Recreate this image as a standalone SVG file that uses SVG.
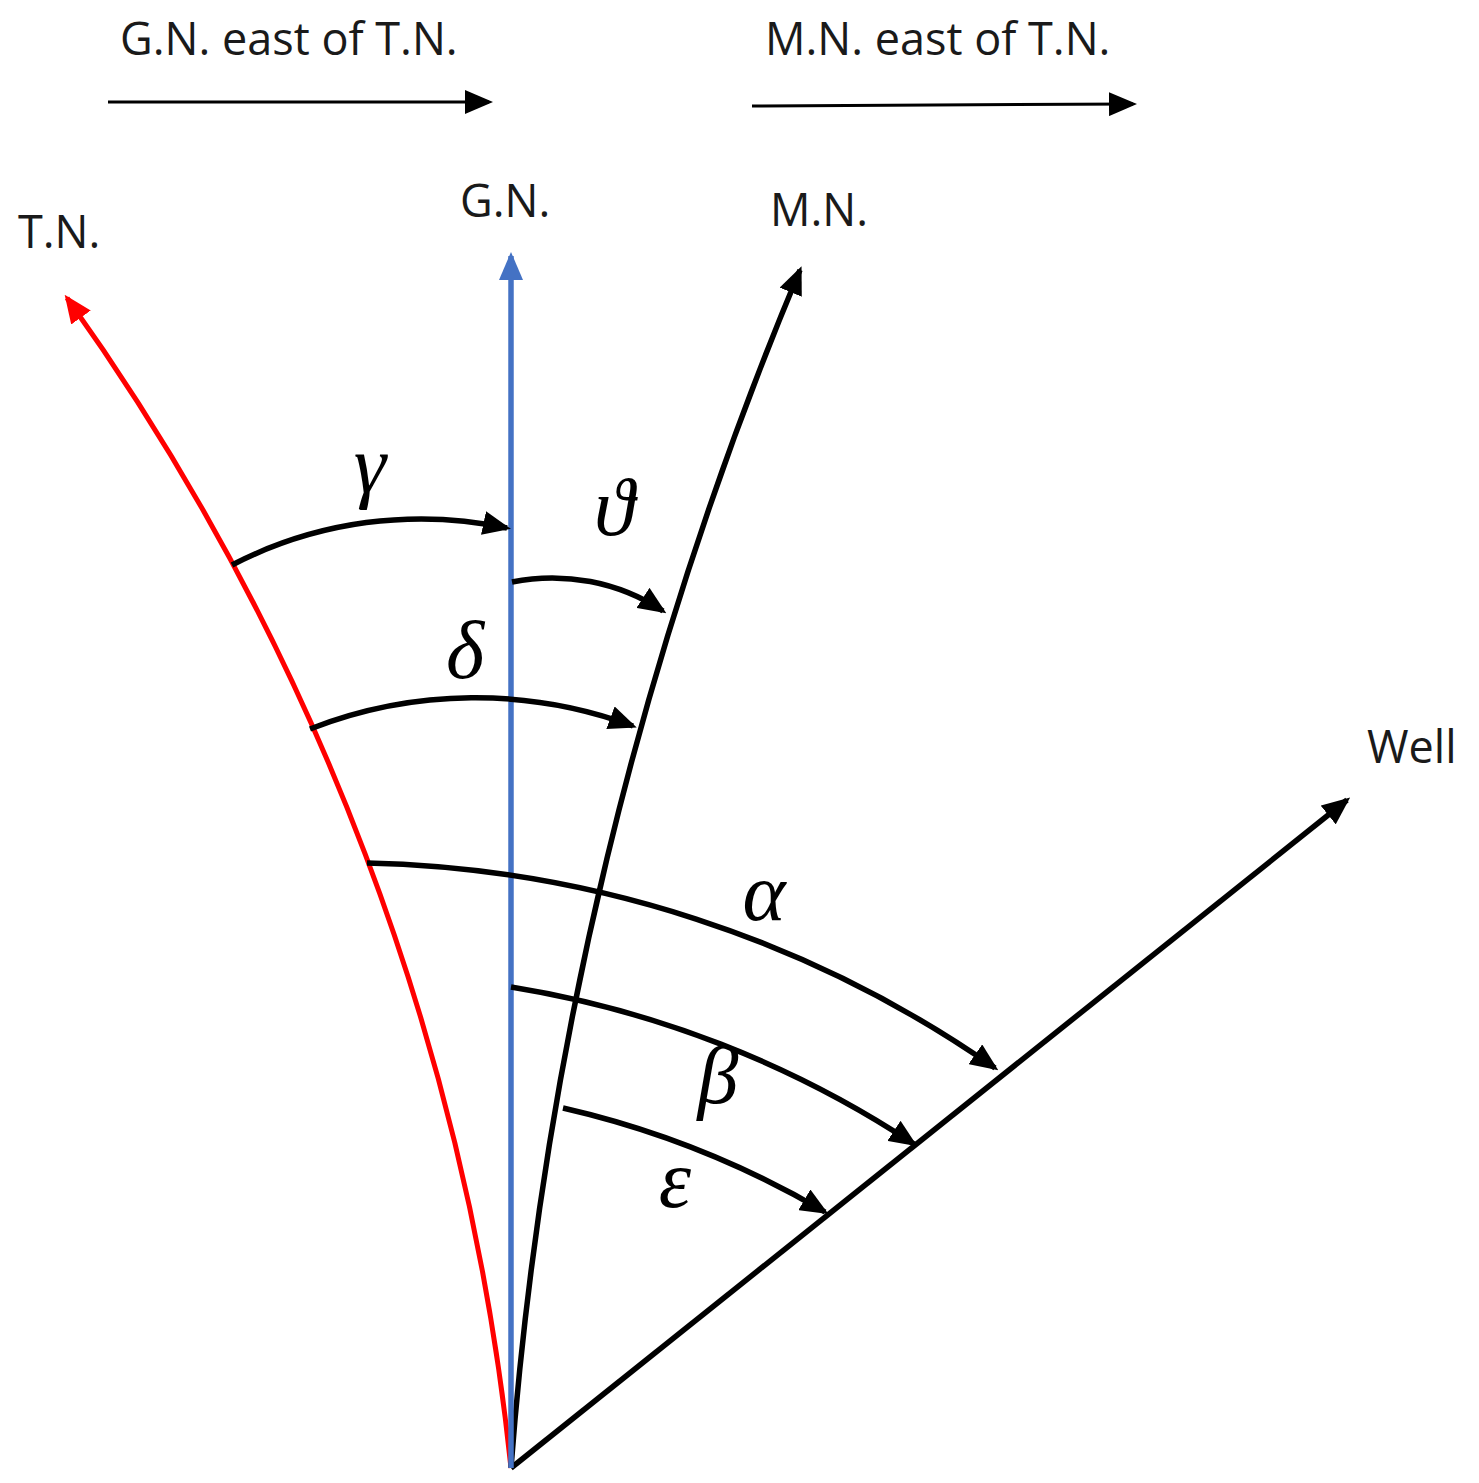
<svg xmlns="http://www.w3.org/2000/svg" width="1479" height="1483" viewBox="0 0 1479 1483">
<style>
.lbl{font-family:"Open Sans","Liberation Sans",sans-serif;font-size:45px;fill:#1a1a1a}
.gr{font-family:"Liberation Serif",serif;font-style:italic;font-size:82px;fill:#000;text-anchor:middle}
.k{fill:none;stroke:#000;stroke-width:5.5}
.thin{fill:none;stroke:#000;stroke-width:3}
</style>
<defs>
<marker id="ak" markerUnits="userSpaceOnUse" viewBox="0 0 28 24" markerWidth="28" markerHeight="24" refX="24" refY="12" orient="auto"><path d="M0,0 L28,12 L0,24 z" fill="#000"/></marker>
<marker id="ar" markerUnits="userSpaceOnUse" viewBox="0 0 28 24" markerWidth="28" markerHeight="24" refX="24" refY="12" orient="auto"><path d="M0,0 L28,12 L0,24 z" fill="#ff0000"/></marker>
<marker id="ab" markerUnits="userSpaceOnUse" viewBox="0 0 28 24" markerWidth="28" markerHeight="24" refX="24" refY="12" orient="auto"><path d="M0,0 L28,12 L0,24 z" fill="#4472c4"/></marker>
</defs>
<rect width="1479" height="1483" fill="#fff"/>
<g id="connectors">
<path d="M108 102 L489 102" class="thin" marker-end="url(#ak)"/>
<path d="M752 106 L1133 104" class="thin" marker-end="url(#ak)"/>
<path id="tn-line" d="M511 1468 A2443 2443 0 0 0 67 298" fill="none" stroke="#ff0000" stroke-width="5" marker-end="url(#ar)"/>
<path id="mn-line" d="M511 1468 A3848 3848 0 0 1 800 270" class="k" marker-end="url(#ak)"/>
<path id="well-line" d="M511 1468 L1347 800" class="k" marker-end="url(#ak)"/>
<path id="gn-line" d="M511 1468 L511 256" fill="none" stroke="#4472c4" stroke-width="5.5" marker-end="url(#ab)"/>
<path id="arc-gamma" d="M232 565 A411 411 0 0 1 507 528" class="k" marker-end="url(#ak)"/>
<path id="arc-theta" d="M512 582 A202 202 0 0 1 663 611" class="k" marker-end="url(#ak)"/>
<path id="arc-delta" d="M310 729 A454 454 0 0 1 633 726" class="k" marker-end="url(#ak)"/>
<path id="arc-alpha" d="M367 863 A1141 1141 0 0 1 995 1068" class="k" marker-end="url(#ak)"/>
<path id="arc-beta" d="M511 987 A1032 1032 0 0 1 914 1144" class="k" marker-end="url(#ak)"/>
<path id="arc-eps" d="M563 1108 A924 924 0 0 1 825 1212" class="k" marker-end="url(#ak)"/>
</g>
<g id="label-gn-east"><text class="lbl" x="120" y="55">G.N. east of T.N.</text></g>
<g id="label-mn-east"><text class="lbl" x="765" y="55">M.N. east of T.N.</text></g>
<g id="node-tn"><text class="lbl" x="18" y="248">T.N.</text></g>
<g id="node-gn"><text class="lbl" x="460" y="217">G.N.</text></g>
<g id="node-mn"><text class="lbl" x="770" y="226">M.N.</text></g>
<g id="node-well"><text class="lbl" x="1367" y="763">Well</text></g>
<g id="lbl-gamma"><text class="gr" x="370" y="492">γ</text></g>
<g id="lbl-theta"><text class="gr" x="614" y="535">ϑ</text></g>
<g id="lbl-delta"><text class="gr" x="465" y="678">δ</text></g>
<g id="lbl-alpha"><text class="gr" x="764" y="920">α</text></g>
<g id="lbl-beta"><text class="gr" x="718" y="1103">β</text></g>
<g id="lbl-eps"><text class="gr" x="675" y="1207">ε</text></g>
</svg>
